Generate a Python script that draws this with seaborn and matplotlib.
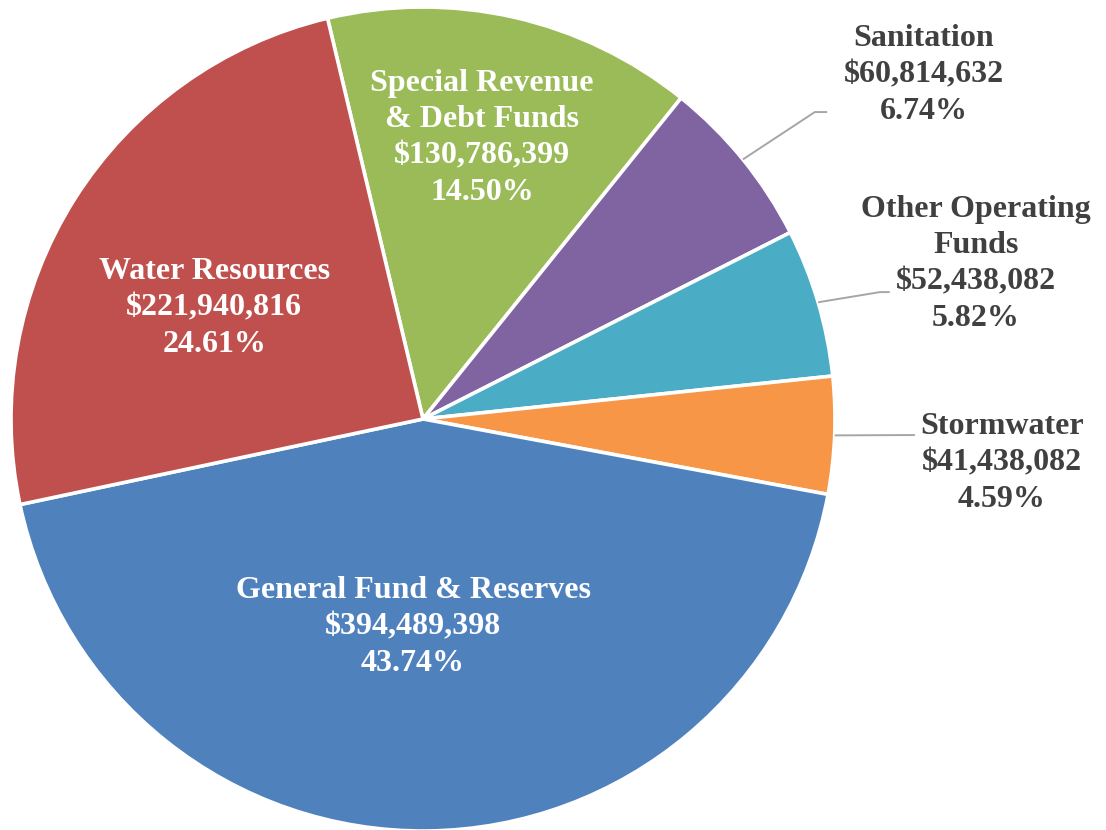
import matplotlib
matplotlib.use("Agg")
import matplotlib.pyplot as plt
import numpy as np
import seaborn as sns

# Budget by fund, in clockwise order from the top of the pie
funds = ["Special Revenue\n& Debt Funds", "Sanitation", "Other Operating\nFunds",
         "Stormwater", "General Fund & Reserves", "Water Resources"]
amounts = [130786399, 60814632, 52438082, 41438082, 394489398, 221940816]
shares = ["14.50%", "6.74%", "5.82%", "4.59%", "43.74%", "24.61%"]

sns.set_theme(style="white")
plt.rcParams["font.family"] = ["Liberation Serif", "DejaVu Serif"]

palette = sns.color_palette(["#9BBB59", "#8064A2", "#4BACC6",
                             "#F79646", "#4F81BD", "#C0504D"])

fig = plt.figure(figsize=(11.06, 8.30), dpi=100)
ax = fig.add_axes([0, 0, 1, 1])

wedges, _ = ax.pie(amounts, colors=palette, startangle=103.4, counterclock=False,
                   radius=1.0, center=(0, 0),
                   wedgeprops=dict(edgecolor="white", linewidth=2.6))

ax.set_xlim(-1.0267, 1.6578)
ax.set_ylim(-0.9976, 1.0170)
ax.set_aspect("auto")
ax.axis("off")

# label anchor (x, y) and, for outside labels, leader elbow and end points
inside = {
    0: (0.143, 0.682),
    4: (-0.024, -0.505),
    5: (-0.507, 0.269),
}
outside = {
    1: ((1.216, 0.835), (0.951, 0.745), (0.981, 0.745)),
    2: ((1.342, 0.376), (1.109, 0.308), (1.133, 0.308)),
    3: ((1.405, -0.107), (1.165, -0.039), (1.194, -0.039)),
}

fs = 23
for i, (name, amt, pct) in enumerate(zip(funds, amounts, shares)):
    text = f"{name}\n${amt:,}\n{pct}"
    if i in inside:
        x, y = inside[i]
        ax.text(x, y, text, ha="center", va="center", color="white",
                fontsize=fs, fontweight="bold", linespacing=1.34)
    else:
        (x, y), elbow, end = outside[i]
        w = wedges[i]
        mid = np.deg2rad((w.theta1 + w.theta2) / 2)
        start = (np.cos(mid) * w.r, np.sin(mid) * w.r)
        ax.plot([start[0], elbow[0], end[0]], [start[1], elbow[1], end[1]],
                color="#A6A6A6", linewidth=1.4, solid_capstyle="butt")
        ax.text(x, y, text, ha="center", va="center", color="#404040",
                fontsize=fs, fontweight="bold", linespacing=1.34)

fig.savefig("out.png", dpi=100, facecolor="white")
